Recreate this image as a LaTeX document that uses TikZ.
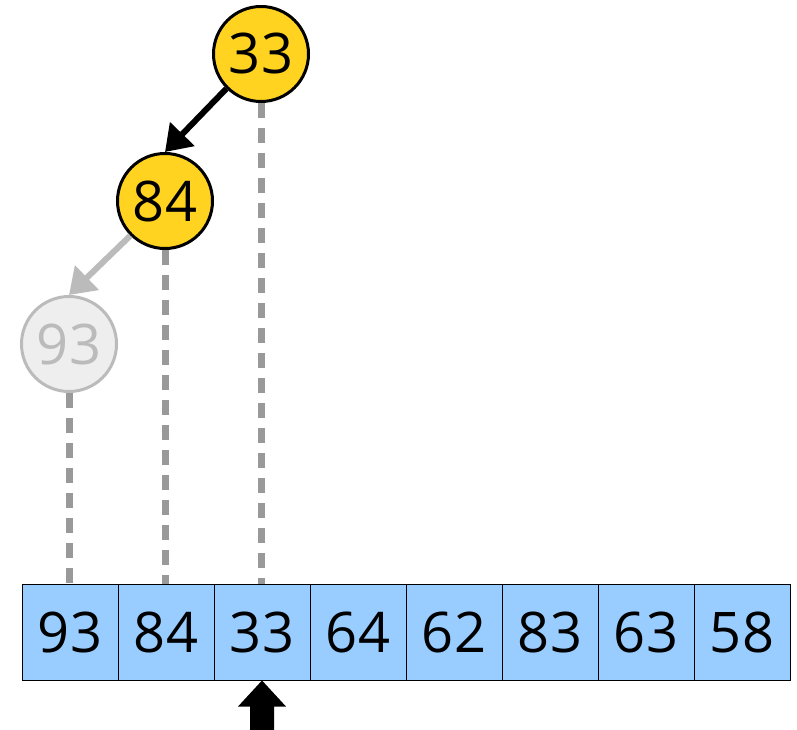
\documentclass[tikz,border=0pt]{standalone}
\usepackage{fontspec}
\setmainfont{Open Sans}
\usetikzlibrary{arrows.meta}
\definecolor{cellblue}{HTML}{99CCFF}
\definecolor{heapyellow}{HTML}{FFD320}
\definecolor{fadefill}{HTML}{EEEEEE}
\definecolor{fadeline}{HTML}{BBBBBB}
\definecolor{guidegray}{HTML}{999999}

\begin{document}
\begin{tikzpicture}[x=1pt, y=-1pt,
  digits/.style={font=\fontsize{56}{60}\selectfont},
  cell/.style={draw, line width=1pt, fill=cellblue, minimum size=96pt, inner sep=0pt, digits},
  heapnode/.style={circle, draw, line width=3pt, fill=heapyellow, minimum size=95pt, inner sep=0pt, digits},
  oldnode/.style={heapnode, draw=fadeline, fill=fadefill, text=fadeline},
  guide/.style={guidegray, line width=7pt, dash pattern=on 15pt off 10pt},
  link/.style={line width=6pt, -{Triangle[length=25pt, width=33pt]}}]
  \useasboundingbox (0,0) rectangle (797,730);

  % array
  \foreach \v [count=\i] in {93,84,33,64,62,83,63,58}
    \node[cell] (a\i) at ({96*\i-26},632) {\v};

  \node[heapnode] (n33) at (261,54) {33};
  \node[heapnode] (n84) at (165,201) {84};
  \node[oldnode] (n93) at (69,344) {93};

  % path of the element being inserted
  \draw[guide] (n93.south) -- (n93.south |- a1.north);
  \draw[guide] (n84.south) -- (n84.south |- a2.north);
  \draw[guide] (n33.south) -- (n33.south |- a3.north);

  \draw[link] (n33.south west) -- (n84.north);
  \draw[link, fadeline] (n84.south west) -- (n93.north);

  % current position
  \coordinate (ptr) at (a3.south);
  \fill (ptr) -- ++(24,26) -- ++(-12,0) -- ++(0,24) -- ++(-24,0) -- ++(0,-24) -- ++(-12,0) -- cycle;
\end{tikzpicture}
\end{document}
